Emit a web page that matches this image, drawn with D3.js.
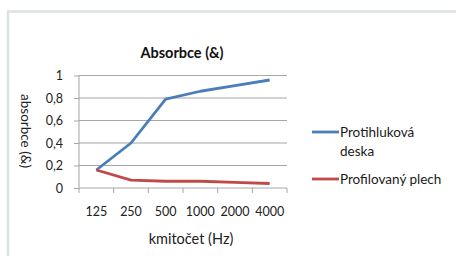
<!DOCTYPE html>
<html><head><meta charset="utf-8">
<script src="https://cdn.jsdelivr.net/npm/d3@7"></script>
<style>html,body{margin:0;padding:0;background:#fff;}svg{display:block;}</style>
</head><body>
<svg id="c" width="456" height="256"></svg>
<script>
const categories = ["125", "250", "500", "1000", "2000", "4000"];
const deska = [0.16, 0.40, 0.79, 0.86, 0.91, 0.96];
const plech = [0.16, 0.07, 0.06, 0.06, 0.05, 0.04];
const yTicks = [0, 0.2, 0.4, 0.6, 0.8, 1];
const seriesNames = ["Protihluková deska", "Profilovaný plech"];
const colors = ["#4a7ebb", "#be4b48"];
const font = "Lato, 'Open Sans', sans-serif";

const svg = d3.select("#c");
svg.append("rect").attr("x", 8).attr("y", 11.5).attr("width", 460).attr("height", 260)
  .attr("fill", "none").attr("stroke", "#dbe2df").attr("stroke-width", 2.5);

const x = d3.scaleBand().domain(categories).range([79, 287]).padding(0);
const y = d3.scaleLinear().domain([0, 1]).range([188, 75.5]);

// gridlines
svg.append("g").selectAll("line").data(yTicks.filter(d => d > 0)).join("line")
  .attr("x1", 79).attr("x2", 287).attr("y1", d => y(d)).attr("y2", d => y(d))
  .attr("stroke", "#a6a6a6").attr("stroke-width", 1);

// y axis
const yAxis = svg.append("g").attr("transform", "translate(79,0)")
  .call(d3.axisLeft(y).tickValues(yTicks).tickSize(5).tickPadding(11)
    .tickFormat(d => d3.format("~g")(d).replace(".", ",")));
yAxis.select(".domain").attr("stroke", "#a6a6a6").attr("d", `M0,${y(1)}V${y(0)}`);
yAxis.selectAll(".tick line").attr("stroke", "#a6a6a6");
yAxis.selectAll("text").attr("font-family", font).attr("font-size", 12.5).attr("fill", "#222");

// x axis
const xAxis = svg.append("g").attr("transform", "translate(0,188)")
  .call(d3.axisBottom(x).tickSize(0).tickPadding(19));
xAxis.select(".domain").attr("stroke", "#a6a6a6").attr("d", "M79,0H287");
xAxis.selectAll("text").attr("font-family", font).attr("font-size", 12.5).attr("fill", "#222");
xAxis.append("g").selectAll("line").data(categories.concat(["end"])).join("line")
  .attr("x1", (d, i) => i < categories.length ? x(d) : x.range()[1])
  .attr("x2", (d, i) => i < categories.length ? x(d) : x.range()[1])
  .attr("y1", 0).attr("y2", 5).attr("stroke", "#a6a6a6");

// lines
const line = d3.line().x((d, i) => x(categories[i]) + x.bandwidth() / 2).y(d => y(d));
[deska, plech].forEach((s, k) => {
  svg.append("path").datum(s).attr("d", line).attr("fill", "none")
    .attr("stroke", colors[k]).attr("stroke-width", 2.8).attr("stroke-linejoin", "round");
});

// title
svg.append("text").attr("x", 182).attr("y", 58).attr("text-anchor", "middle")
  .attr("font-family", font).attr("font-weight", "bold").attr("font-size", 14.5).attr("fill", "#111")
  .text("Absorbce (&)");
// y title
svg.append("text").attr("transform", "translate(21,131) rotate(90)").attr("text-anchor", "middle")
  .attr("font-family", font).attr("font-size", 13.5).attr("fill", "#222").text("absorbce (&)");
// x title
svg.append("text").attr("x", 191).attr("y", 244).attr("text-anchor", "middle")
  .attr("font-family", font).attr("font-size", 14.5).attr("fill", "#222").text("kmitočet (Hz)");

// legend
const leg = svg.append("g");
const legY = [132, 179];
const legLines = [["Protihluková", "deska"], ["Profilovaný plech"]];
legLines.forEach((lines, k) => {
  leg.append("line").attr("x1", 312).attr("x2", 339).attr("y1", legY[k]).attr("y2", legY[k])
    .attr("stroke", colors[k]).attr("stroke-width", 2.8);
  lines.forEach((t, j) => {
    leg.append("text").attr("x", 340).attr("y", legY[k] + 5 + j * 19)
      .attr("font-family", font).attr("font-size", 13.5).attr("fill", "#1a1a1a").text(t);
  });
});
</script>
</body></html>
